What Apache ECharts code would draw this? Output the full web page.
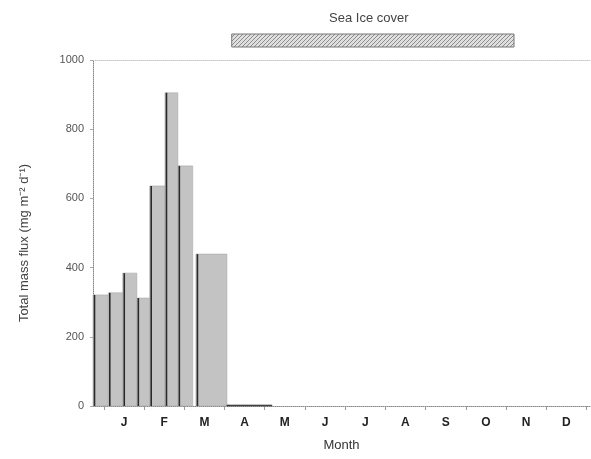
<!DOCTYPE html>
<html>
<head>
<meta charset="utf-8">
<script src="https://cdn.jsdelivr.net/npm/echarts@6/dist/echarts.min.js"></script>
<style>html,body{margin:0;padding:0;background:#fff}#c{width:591px;height:459px}</style>
</head>
<body>
<div id="c"></div>
<script>
// Months (axis positions in months: 0 = 1 January)
const monthLabels = ['J','F','M','A','M','J','J','A','S','O','N','D'];
const monthCenters = [0.5,1.5,2.5,3.5,4.5,5.5,6.5,7.5,8.5,9.5,10.5,11.5];
const monthBounds = [0,1,2,3,4,5,6,7,8,9,10,11,12];
// Sampling periods: start, end (months) and total mass flux (mg m-2 d-1)
const periodStart = [-0.27, 0.11, 0.47, 0.82, 1.14, 1.52, 1.84, 2.29, 3.06];
const periodEnd   = [ 0.11, 0.47, 0.82, 1.14, 1.52, 1.84, 2.21, 3.06, 4.18];
const fluxValues  = [ 321,  327,  384,  312,  636,  905,  694,  439,  3];
// Sea ice cover period (months)
const seaIceStart = 3.18;
const seaIceEnd = 10.2;

const barData = periodStart.map((s, i) => [s, periodEnd[i], fluxValues[i]]);

// crosshatch pattern for sea ice bar
const pc = document.createElement('canvas');
pc.width = 4; pc.height = 4;
const pctx = pc.getContext('2d');
pctx.fillStyle = '#e0e0e0'; pctx.fillRect(0,0,4,4);
pctx.fillStyle = '#8a8a8a';
pctx.fillRect(0,0,1,1); pctx.fillRect(2,2,1,1); pctx.fillRect(1,3,1,1); pctx.fillRect(3,1,1,1);

const chart = echarts.init(document.getElementById('c'), null, {renderer: 'canvas'});
chart.setOption({
  animation: false,
  backgroundColor: '#fff',
  grid: {left: 93, right: 1, top: 60, bottom: 53},
  xAxis: [{
    type: 'value', min: -0.27, max: 12.09,
    name: 'Month', nameLocation: 'middle', nameGap: 33,
    nameTextStyle: {fontFamily: 'Liberation Sans', fontSize: 13, color: '#333'},
    axisLine: {show: true, onZero: false, lineStyle: {color: '#888', type: 'dotted', width: 1}},
    axisTick: {show: true, length: 4, customValues: monthBounds, lineStyle: {color: '#999'}},
    axisLabel: {
      customValues: monthCenters, margin: 11,
      fontFamily: 'Liberation Sans', fontWeight: 'bold', fontSize: 12, color: '#222',
      formatter: v => monthLabels[Math.floor(v)]
    },
    splitLine: {show: false}
  }, {
    type: 'value', position: 'top', min: -0.27, max: 12.09,
    axisLine: {show: true, onZero: false, lineStyle: {color: '#c8c8c8', type: 'dotted'}},
    axisTick: {show: false}, axisLabel: {show: false}, splitLine: {show: false}
  }],
  yAxis: {
    type: 'value', min: 0, max: 1000, interval: 200,
    name: 'Total mass flux (mg m\u207B\u00B2 d\u207B\u00B9)', nameLocation: 'middle', nameGap: 62,
    nameTextStyle: {fontFamily: 'Liberation Sans', fontSize: 13, color: '#444', padding: [0, 20, 0, 0]},
    axisLine: {show: true, onZero: false, lineStyle: {color: '#888', type: 'dotted', width: 1}},
    axisTick: {show: true, length: 3, lineStyle: {color: '#aaa'}},
    axisLabel: {fontFamily: 'Liberation Sans', fontSize: 11, color: '#555', margin: 9, formatter: v => String(v)},
    splitLine: {show: false}
  },
  series: [{
    type: 'custom',
    encode: {x: [0, 1], y: 2},
    data: barData,
    renderItem: function (params, api) {
      const s = api.coord([api.value(0), 0]);
      const e = api.coord([api.value(1), api.value(2)]);
      const h = Math.max(s[1] - e[1], 1);
      return {
        type: 'group',
        children: [{
          type: 'rect',
          shape: {x: s[0], y: s[1] - h, width: e[0] - s[0], height: h},
          style: {fill: h > 3 ? '#c3c3c3' : '#444', stroke: h > 3 ? '#a8a8a8' : '#444', lineWidth: 0.6}
        }, {
          type: 'line',
          shape: {x1: s[0] + 1.5, y1: s[1] - h, x2: s[0] + 1.5, y2: s[1]},
          style: {stroke: '#2a2a2a', lineWidth: 1.6}
        }]
      };
    }
  }, {
    type: 'custom',
    clip: false,
    encode: {x: [0, 1]},
    data: [[seaIceStart, seaIceEnd]],
    renderItem: function (params, api) {
      const a = api.coord([api.value(0), 1000]);
      const b = api.coord([api.value(1), 1000]);
      return {
        type: 'group',
        children: [{
          type: 'rect',
          shape: {x: a[0], y: a[1] - 26, width: b[0] - a[0], height: 13},
          style: {fill: {image: pc, repeat: 'repeat'}, stroke: '#777', lineWidth: 1}
        }, {
          type: 'text',
          style: {
            text: 'Sea Ice cover', x: (a[0] + b[0]) / 2 - 4, y: a[1] - 42,
            align: 'center', verticalAlign: 'middle',
            font: '13px "Liberation Sans"', fill: '#444'
          }
        }]
      };
    }
  }]
});
</script>
</body>
</html>
